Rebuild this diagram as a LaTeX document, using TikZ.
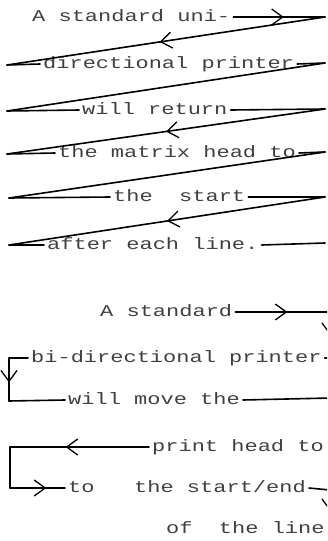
\documentclass[tikz,border=0pt]{standalone}
\usepackage{fontspec}
\usepackage{graphicx}
\usetikzlibrary{arrows.meta,decorations.markings}
\newfontfamily\dotmx{Liberation Mono}
\newcommand{\dmtext}[1]{\scalebox{1.333}[1]{\dotmx\fontsize{16.5pt}{18pt}\selectfont #1}}
\tikzset{
  barb/.tip={Straight Barb[length=11pt,width=16pt,line width=1.3pt]},
  ln/.style={line width=1.6pt, line cap=round, line join=round},
  midarr/.style={postaction={decorate,decoration={markings,mark=at position #1 with {\arrow{barb}}}}},
  txt/.style={anchor=west, inner xsep=3pt, inner ysep=0pt, text height=11.5pt, text depth=3pt, text=black!75},
}
\begin{document}
\begin{tikzpicture}[x=1pt,y=-1pt]
\useasboundingbox (0,0) rectangle (327,541);
\clip (0,0) rectangle (327,541);
% ---- uni-directional ----
\node[txt] (t1) at (29,17) {\dmtext{A standard uni-}};
\coordinate (r1) at (325,17);
\coordinate (l2) at (7,65);
\node[txt] (t2) at (40,64) {\dmtext{directional printer}};
\coordinate (r2) at (325,63);
\coordinate (l3) at (7,111);
\node[txt] (t3) at (79,110) {\dmtext{will return}};
\coordinate (r3) at (325,109);
\coordinate (l4) at (7,154);
\node[txt] (t4) at (55,153) {\dmtext{the matrix head to}};
\coordinate (r4) at (325,152);
\coordinate (l5) at (9,198);
\node[txt] (t5) at (110,197) {\dmtext{the~ start}};
\coordinate (r5) at (325,197);
\coordinate (l6) at (9,245);
\node[txt] (t6) at (44,245) {\dmtext{after each line.}};
\coordinate (r6) at (325,243);

\draw[ln,midarr=0.55] (t1.east) -- (r1);
\draw[ln,midarr=0.52] (r1) -- (l2);
\draw[ln] (l2) -- (t2.west);
\draw[ln] (t2.east) -- (r2);
\draw[ln] (r2) -- (l3);
\draw[ln] (l3) -- (t3.west);
\draw[ln] (t3.east) -- (r3);
\draw[ln,midarr=0.5] (r3) -- (l4);
\draw[ln] (l4) -- (t4.west);
\draw[ln] (t4.east) -- (r4);
\draw[ln] (r4) -- (l5);
\draw[ln] (l5) -- (t5.west);
\draw[ln] (t5.east) -- (r5);
\draw[ln,midarr=0.5] (r5) -- (l6);
\draw[ln] (l6) -- (t6.west);
\draw[ln] (t6.east) -- (r6);

% ---- bi-directional ----
\node[txt] (t7) at (97,312) {\dmtext{A standard}};
\coordinate (e1) at (330,312);
\coordinate (e2) at (330,358);
\node[txt] (t8) at (28,358) {\dmtext{bi-directional printer}};
\coordinate (b1) at (9,358);
\coordinate (b2) at (9,401);
\node[txt] (t9) at (65,400) {\dmtext{will move the}};
\coordinate (e3) at (330,398);
\node[txt] (t10) at (149,447) {\dmtext{print head to}};
\coordinate (b3) at (10,447);
\coordinate (b4) at (10,488);
\node[txt] (t11) at (65,488) {\dmtext{to~~ the start/end}};
\coordinate (e5) at (330,490);
\coordinate (e6) at (330,532);
\node[txt] (t12) at (163,529) {\dmtext{of~ the line}};

\draw[ln,midarr=0.55] (t7.east) -- (e1);
\draw[ln,midarr=0.5] (e1) -- (e2);
\draw[ln] (e2) -- (t8.east);
\draw[ln] (t8.west) -- (b1);
\draw[ln,midarr=0.57] (b1) -- (b2);
\draw[ln] (b2) -- (t9.west);
\draw[ln] (t9.east) -- (e3);
\draw[ln,midarr=0.6] (t10.west) -- (b3);
\draw[ln] (b3) -- (b4);
\draw[ln,midarr=0.66] (b4) -- (t11.west);
\draw[ln] (t11.east) -- (e5);
\draw[ln,midarr=0.5] (e5) -- (e6);
\end{tikzpicture}
\end{document}
